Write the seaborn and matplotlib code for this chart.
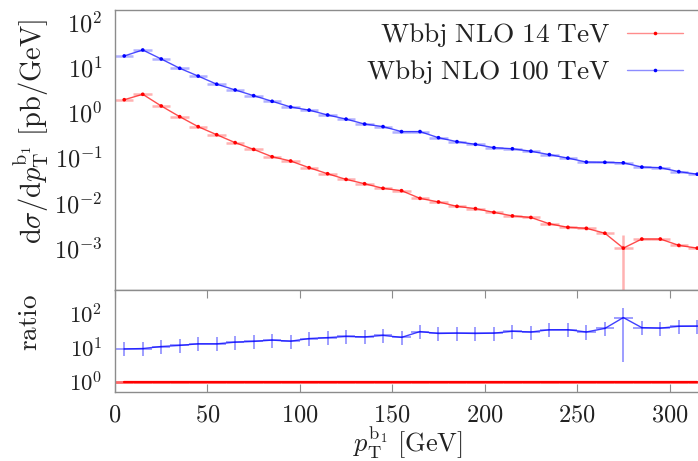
import numpy as np
import pandas as pd
import matplotlib
matplotlib.use("Agg")
import matplotlib.pyplot as plt
import seaborn as sns
from matplotlib.ticker import LogLocator, FuncFormatter, MultipleLocator, NullFormatter
from matplotlib.lines import Line2D

# ---------------- data ----------------
pt_centers = [5, 15, 25, 35, 45, 55, 65, 75, 85, 95,
              105, 115, 125, 135, 145, 155, 165, 175, 185, 195,
              205, 215, 225, 235, 245, 255, 265, 275, 285, 295,
              305, 315]
bin_half_width = 5

xs_14 = [1.94, 2.56, 1.41, 0.815, 0.489, 0.324, 0.216, 0.153, 0.105, 0.0845,
         0.060, 0.044, 0.033, 0.0264, 0.0209, 0.0185, 0.0125, 0.0104, 0.0083, 0.0074,
         0.0061, 0.0051, 0.0047, 0.0034, 0.00284, 0.0027, 0.0021, 0.00098, 0.00156, 0.00156,
         0.00113, 0.00098]
xs_14_relerr = [0.02, 0.02, 0.02, 0.02, 0.02, 0.03, 0.03, 0.03, 0.03, 0.03,
                0.03, 0.03, 0.04, 0.04, 0.04, 0.04, 0.04, 0.04, 0.05, 0.05,
                0.05, 0.05, 0.05, 0.05, 0.06, 0.06, 0.06, 0.95, 0.06, 0.06,
                0.06, 0.06]

xs_100 = [18.2, 24.7, 15.6, 9.7, 6.5, 4.3, 3.2, 2.39, 1.79, 1.34,
          1.14, 0.89, 0.72, 0.56, 0.49, 0.38, 0.38, 0.278, 0.227, 0.198,
          0.167, 0.158, 0.139, 0.117, 0.098, 0.080, 0.079, 0.077, 0.062, 0.060,
          0.049, 0.043]
xs_100_relerr = [0.02, 0.02, 0.02, 0.02, 0.02, 0.02, 0.02, 0.02, 0.02, 0.02,
                 0.03, 0.03, 0.03, 0.03, 0.03, 0.03, 0.03, 0.03, 0.03, 0.03,
                 0.03, 0.03, 0.03, 0.03, 0.03, 0.03, 0.03, 0.03, 0.03, 0.03,
                 0.03, 0.03]

ratio_relerr_up = [0.55, 0.55, 0.55, 0.55, 0.55, 0.55, 0.55, 0.55, 0.55, 0.55,
                   0.55, 0.55, 0.55, 0.55, 0.55, 0.55, 0.55, 0.55, 0.55, 0.55,
                   0.55, 0.55, 0.55, 0.55, 0.55, 0.55, 0.55, 0.93, 0.55, 0.55,
                   0.55, 0.55]
ratio_relerr_dn = [0.40, 0.40, 0.40, 0.40, 0.40, 0.40, 0.40, 0.40, 0.40, 0.40,
                   0.40, 0.40, 0.40, 0.40, 0.40, 0.40, 0.40, 0.40, 0.40, 0.40,
                   0.40, 0.40, 0.40, 0.40, 0.40, 0.40, 0.40, 0.95, 0.40, 0.40,
                   0.40, 0.40]

series_labels = ["Wbbj NLO 14 TeV", "Wbbj NLO 100 TeV"]
series_colors = ["#ff0000", "#0000ff"]

# ---------------- style ----------------
sns.set_theme(style="white")
plt.rcParams.update({
    "font.family": ["DejaVu Serif"],
    "mathtext.fontset": "cm",
    "axes.unicode_minus": True,
})

W, H = 698, 461
fig = plt.figure(figsize=(W / 100, H / 100), dpi=100)
left = 115 / W
ax = fig.add_axes([left, 1 - 290 / H, 1 - left, 280 / H])
rax = fig.add_axes([left, 1 - 392 / H, 1 - left, 102 / H])

n = len(pt_centers)
df = pd.DataFrame({
    "pt": pt_centers * 2,
    "xs": xs_14 + xs_100,
    "series": [series_labels[0]] * n + [series_labels[1]] * n,
})
pal = dict(zip(series_labels, series_colors))

sns.lineplot(data=df, x="pt", y="xs", hue="series", palette=pal, ax=ax,
             estimator=None, sort=False, legend=False, linewidth=1.0, alpha=0.7)
sns.scatterplot(data=df, x="pt", y="xs", hue="series", palette=pal, ax=ax,
                legend=False, s=7, linewidth=0, zorder=4)

for vals, rel, c in [(xs_14, xs_14_relerr, series_colors[0]),
                     (xs_100, xs_100_relerr, series_colors[1])]:
    v = np.array(vals)
    ax.errorbar(pt_centers, v, xerr=bin_half_width, yerr=v * np.array(rel),
                fmt="none", ecolor=c, alpha=0.3, elinewidth=1.8)

# ratio panel
ratio_14 = np.array(xs_14) / np.array(xs_14)
ratio_100 = np.array(xs_100) / np.array(xs_14)
rdf = pd.DataFrame({
    "pt": pt_centers * 2,
    "ratio": list(ratio_14) + list(ratio_100),
    "series": [series_labels[0]] * n + [series_labels[1]] * n,
})
sns.lineplot(data=rdf[rdf.series == series_labels[1]], x="pt", y="ratio",
             color=series_colors[1], ax=rax, estimator=None, sort=False,
             legend=False, linewidth=1.0, alpha=0.75)
rax.errorbar(pt_centers, ratio_100, xerr=bin_half_width,
             yerr=[ratio_100 * np.array(ratio_relerr_dn), ratio_100 * np.array(ratio_relerr_up)],
             fmt="none", ecolor=series_colors[1], alpha=0.45, elinewidth=1.2)
sns.lineplot(data=rdf[rdf.series == series_labels[0]], x="pt", y="ratio",
             color=series_colors[0], ax=rax, estimator=None, sort=False,
             legend=False, linewidth=1.6)
rax.errorbar(pt_centers, ratio_14, xerr=bin_half_width, fmt="none",
             ecolor=series_colors[0], alpha=0.6, elinewidth=2.0)

# ---------------- axes ----------------
for a in (ax, rax):
    a.set_xlim(0, 315.4)
    a.set_yscale("log")
    a.spines["right"].set_visible(False)
    for s in ("left", "top", "bottom"):
        a.spines[s].set_color("#8c8c8c")
        a.spines[s].set_linewidth(1.0)
    a.set_xlabel("")
    a.set_ylabel("")
    a.tick_params(which="both", direction="in", color="#8c8c8c",
                  labelcolor="#222222", labelsize=17.5, right=False)
    a.tick_params(which="major", length=6, width=0.8)
    a.tick_params(which="minor", length=3.5, width=0.7)

dec_fmt = FuncFormatter(lambda v, p: r"$10^{%d}$" % int(round(np.log10(v))))

ax.set_ylim(1.15e-4, 191)
ax.yaxis.set_major_locator(LogLocator(base=10, numticks=20))
ax.yaxis.set_minor_locator(LogLocator(base=10, subs=(2.0, 5.0, 8.0), numticks=20))
ax.yaxis.set_major_formatter(dec_fmt)
ax.yaxis.set_minor_formatter(NullFormatter())
ax.tick_params(axis="x", which="both", bottom=False, top=False, labelbottom=False)
ax.tick_params(axis="y", pad=9)

rax.set_ylim(0.508, 508)
rax.yaxis.set_major_locator(LogLocator(base=10, numticks=10))
rax.yaxis.set_minor_locator(LogLocator(base=10, subs=np.arange(2, 10), numticks=10))
rax.yaxis.set_major_formatter(dec_fmt)
rax.yaxis.set_minor_formatter(NullFormatter())
rax.xaxis.set_major_locator(MultipleLocator(50))
rax.xaxis.set_major_formatter(FuncFormatter(lambda v, p: r"$%d$" % int(round(v))))
rax.tick_params(axis="x", which="both", top=True, bottom=True, pad=8)
rax.tick_params(axis="x", which="minor", top=False, bottom=False)
rax.tick_params(axis="y", pad=9, labelsize=16.5)

# labels
fig.text(31 / W, 1 - 131 / H,
         r"$\mathrm{d}\sigma/\mathrm{d}p_{\mathrm{T}}^{\mathrm{b}_1}\ [\mathrm{pb/GeV}]$",
         rotation=90, ha="center", va="center", fontsize=20.5, color="#222222")
fig.text(30 / W, 1 - 323 / H, r"$\mathrm{ratio}$", rotation=90,
         ha="center", va="center", fontsize=19.5, color="#222222")
fig.text(408 / W, 1 - 452 / H, r"$p_{\mathrm{T}}^{\mathrm{b}_1}\ [\mathrm{GeV}]$",
         ha="center", va="baseline", fontsize=19, color="#222222")

# legend
handles = [Line2D([], [], color=c, linewidth=1.0, alpha=0.45) for c in series_colors]
marks = [Line2D([], [], color=c, linestyle="none", marker="o", markersize=2.6,
                markeredgewidth=0) for c in series_colors]
disp = [r"$\mathrm{%s}$" % s.replace(" ", r"\ ") for s in series_labels]
leg = ax.legend([(h, m) for h, m in zip(handles, marks)], disp, loc="upper right",
                bbox_to_anchor=(0.9837, 0.9786), borderaxespad=0.0,
                frameon=False, markerfirst=False,
                fontsize=19.7, handlelength=2.05, handletextpad=0.6,
                labelspacing=0.33, borderpad=0.2)
for t in leg.get_texts():
    t.set_color("#222222")

fig.savefig("out.png", dpi=100)
